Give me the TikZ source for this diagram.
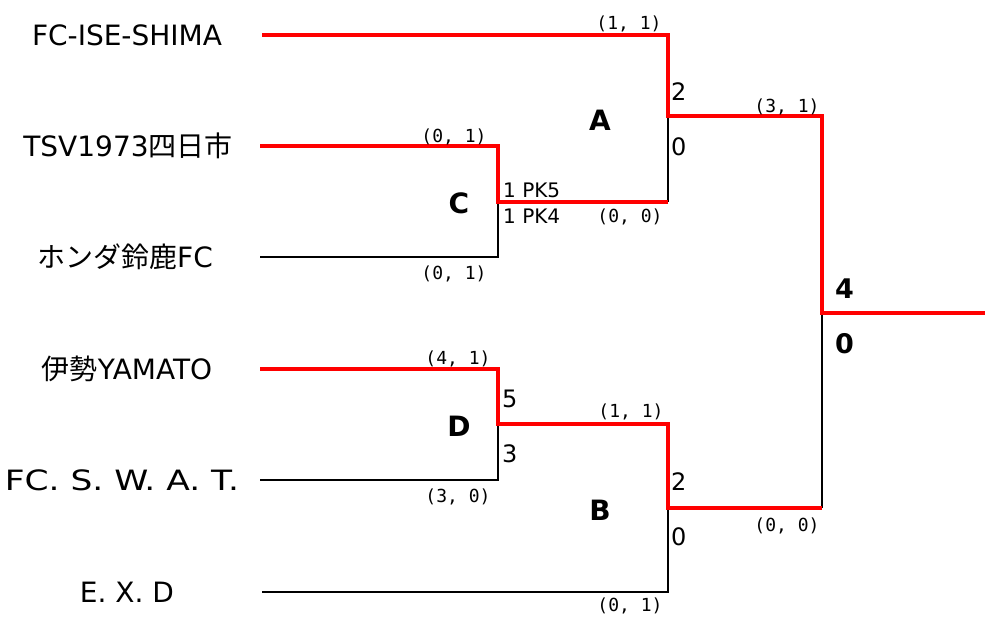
\documentclass[tikz,border=0pt]{standalone}
\usepackage{fontspec}
\setmainfont{DejaVu Sans}
\newfontfamily\jp{Noto Sans CJK JP}
\newfontfamily\mono{DejaVu Sans Mono}
\begin{document}
\begin{tikzpicture}[x=1pt,y=-1pt]

\tikzstyle{team}=[font=\fontsize{28}{28}\selectfont, inner sep=0pt, anchor=base]
\tikzstyle{goals}=[font=\mono\fontsize{18}{18}\selectfont, inner sep=0pt, anchor=base]
\tikzstyle{score}=[font=\fontsize{24}{24}\selectfont, inner sep=0pt, anchor=base west]
\tikzstyle{pk}=[score, font=\fontsize{20}{20}\selectfont]
\tikzstyle{final}=[score, font=\fontsize{27}{27}\selectfont\bfseries]
\tikzstyle{game}=[font=\fontsize{28}{28}\selectfont\bfseries, inner sep=0pt, anchor=base]
\tikzstyle{loser}=[draw=black, line width=1.8pt]
\tikzstyle{winner}=[draw=red, line width=4pt]

\useasboundingbox (0,0) rectangle (985,619);

\node[team] (iseshima) at (127,45) {FC-ISE-SHIMA};
\node[team] (yokkaichi) at (128,156) {TSV1973{\jp 四日市}};
\node[team] (suzuka) at (125,267) {{\jp ホンダ鈴鹿}FC};
\node[team] (yamato) at (127,379) {{\jp 伊勢}YAMATO};
\node[team] (swat) at (122,490) {\scalebox{1.23}[1]{FC. S. W. A. T.}};
\node[team] (exd) at (127,602) {E. X. D};

\coordinate (e1) at (262,35);
\coordinate (e2) at (260,146);
\coordinate (e3) at (260,257);
\coordinate (e4) at (260,369);
\coordinate (e5) at (260,480);
\coordinate (e6) at (262,592);
\coordinate (c) at (498,202);
\coordinate (a) at (668,116);
\coordinate (d) at (498,424);
\coordinate (b) at (668,508);
\coordinate (f) at (822,313);
\coordinate (champ) at (985,313);

\draw[loser] (e3) -| (c);
\draw[loser] (e5) -| (d);
\draw[loser] (e6) -| (b);
\draw[loser] (c -| a) -- (a);
\draw[loser] (b -| f) -- (f);

\draw[winner] (e1) -| (a) -| (f) -- (champ);
\draw[winner] (e2) -| (c) -- (c -| a);
\draw[winner] (e4) -| (d) -| (b) -- (b -| f);

\node[game] (gameA) at (600,130) {A};
\node[game] (gameB) at (600,520) {B};
\node[game] (gameC) at (459,213) {C};
\node[game] (gameD) at (459,436) {D};

\node[goals] (h1) at (629,29) {(1, 1)};
\node[goals] (h2) at (454,142) {(0, 1)};
\node[goals] (h3) at (454,279) {(0, 1)};
\node[goals] (h4) at (458,364) {(4, 1)};
\node[goals] (h5) at (458,502) {(3, 0)};
\node[goals] (h6) at (630,611) {(0, 1)};
\node[goals] (hc) at (630,222) {(0, 0)};
\node[goals] (hd) at (631,417) {(1, 1)};
\node[goals] (ha) at (787,112) {(3, 1)};
\node[goals] (hb) at (787,531) {(0, 0)};

\node[score] (sa1) at (671,100) {2};
\node[score] (sa2) at (671,155) {0};
\node[score] (sb1) at (671,490) {2};
\node[score] (sb2) at (671,545) {0};
\node[pk] (sc1) at (503,197) {1 PK5};
\node[pk] (sc2) at (503,223) {1 PK4};
\node[score] (sd1) at (502,407) {5};
\node[score] (sd2) at (502,462) {3};
\node[final] (sf1) at (835,298) {4};
\node[final] (sf2) at (835,353) {0};

\end{tikzpicture}
\end{document}
